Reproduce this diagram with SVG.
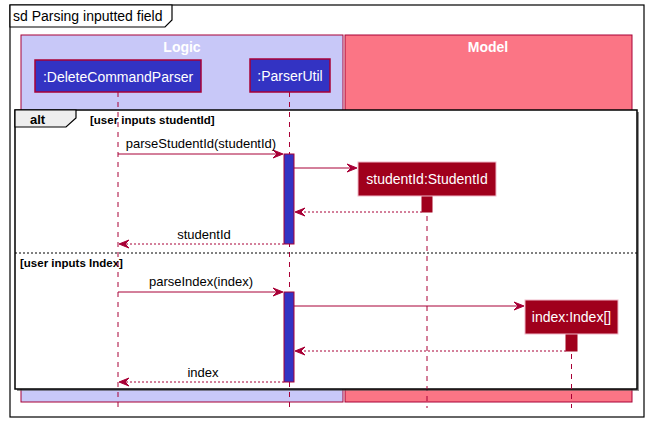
<svg xmlns="http://www.w3.org/2000/svg" width="649" height="423" viewBox="0 0 649 423">
<style>
text{font-family:"Liberation Sans",Arial,sans-serif;}
.msg{font-size:13px;fill:#000;}
.part{font-size:14px;fill:#FFFFFF;text-anchor:middle;}
.box{font-size:14px;font-weight:bold;fill:#FFFFFF;text-anchor:middle;}
.guard{font-size:11.5px;font-weight:bold;fill:#000;}
.life{stroke:#A80036;stroke-width:1;stroke-dasharray:5,5;fill:none;}
.call{stroke:#A80036;stroke-width:1;fill:none;}
.ret{stroke:#A80036;stroke-width:1;stroke-dasharray:2,2;fill:none;}
.ah{fill:#A80036;stroke:#A80036;stroke-width:1;}
.act{fill:#3333C3;stroke:#A80036;stroke-width:1;}
.cact{fill:#A0001C;stroke:#A0001C;stroke-width:1;}
</style>
<rect width="649" height="423" fill="#FFFFFF"/>
<!-- outer frame -->
<g id="frame">
<rect x="10" y="5" width="634" height="412" fill="none" stroke="#000" stroke-width="1.2"/>
<polygon points="10,5 172,5 172,20 165,27 10,27" fill="#FFFFFF" stroke="#000" stroke-width="1.2"/>
<text x="13" y="21" style="font-size:14px;fill:#000">sd Parsing inputted field</text>
</g>
<!-- boxes -->
<g id="box-logic">
<rect x="21" y="35" width="322" height="367" fill="#C8C8F8" stroke="#A80036" stroke-width="1"/>
<text x="182" y="52" class="box">Logic</text>
</g>
<g id="box-model">
<rect x="345" y="35" width="287" height="367" fill="#FB7585" stroke="#A80036" stroke-width="1"/>
<text x="488" y="52" class="box">Model</text>
</g>
<!-- lifelines -->
<g id="lifelines">
<line x1="118" y1="92" x2="118" y2="408" class="life"/>
<line x1="289.5" y1="92" x2="289.5" y2="408" class="life"/>
<line x1="427" y1="196" x2="427" y2="408" class="life"/>
<line x1="571.5" y1="334" x2="571.5" y2="408" class="life"/>
</g>
<!-- alt fragment -->
<g id="alt">
<rect x="17" y="112" width="622" height="279" fill="#444" opacity="0.6"/>
<rect x="15" y="110" width="622" height="279" fill="#FFFFFF" stroke="#000" stroke-width="1.5"/>
<polygon points="15,110 76,110 76,118 66,127 15,127" fill="#EEEEEE" stroke="#000" stroke-width="1.2"/>
<text x="30" y="124" style="font-size:13px;font-weight:bold;fill:#000">alt</text>
<text x="90" y="124" class="guard">[user inputs studentId]</text>
<line x1="15" y1="253" x2="637" y2="253" stroke="#000" stroke-width="1" stroke-dasharray="2,2"/>
<text x="20" y="267" class="guard">[user inputs Index]</text>
</g>
<!-- lifelines over alt -->
<g id="lifelines-over">
<line x1="118" y1="112" x2="118" y2="389" class="life"/>
<line x1="289.5" y1="112" x2="289.5" y2="389" class="life"/>
<line x1="427" y1="196" x2="427" y2="389" class="life"/>
<line x1="571.5" y1="334" x2="571.5" y2="389" class="life"/>
</g>
<!-- participants -->
<g id="p-deletecommandparser">
<rect x="35" y="60" width="166" height="32" fill="#3333C3" stroke="#A80036" stroke-width="1.5"/>
<text x="118" y="82" class="part">:DeleteCommandParser</text>
</g>
<g id="p-parserutil">
<rect x="250" y="59" width="80" height="33" fill="#3333C3" stroke="#A80036" stroke-width="1.5"/>
<text x="290" y="81" class="part">:ParserUtil</text>
</g>
<!-- activations -->
<g id="activations">
<rect x="284" y="154" width="10" height="90" class="act"/>
<rect x="284" y="292" width="10" height="90" class="act"/>
<rect x="422" y="196" width="10" height="16" class="cact"/>
<rect x="566" y="334" width="11" height="17" class="cact"/>
</g>
<g id="p-studentid">
<rect x="358" y="162" width="138" height="34" fill="#A0001C" stroke="#F0B8C8" stroke-width="1"/>
<text x="427" y="184" class="part">studentId:StudentId</text>
</g>
<g id="p-index">
<rect x="525" y="300" width="93" height="34" fill="#A0001C" stroke="#F0B8C8" stroke-width="1"/>
<text x="571.5" y="322" class="part">index:Index[]</text>
</g>
<!-- connectors -->
<g id="connectors">
<line x1="118" y1="154" x2="282" y2="154" class="call"/>
<polygon points="283,154 273,150 277,154 273,158" class="ah"/>
<text x="201" y="148" class="msg" text-anchor="middle">parseStudentId(studentId)</text>

<line x1="294" y1="168" x2="356" y2="168" class="call"/>
<polygon points="357,168 347,164 351,168 347,172" class="ah"/>

<line x1="422" y1="212" x2="296" y2="212" class="ret"/>
<polygon points="295,212 305,208 301,212 305,216" class="ah"/>

<line x1="284" y1="244" x2="120" y2="244" class="ret"/>
<polygon points="119,244 129,240 125,244 129,248" class="ah"/>
<text x="204" y="239" class="msg" text-anchor="middle">studentId</text>

<line x1="118" y1="292" x2="282" y2="292" class="call"/>
<polygon points="283,292 273,288 277,292 273,296" class="ah"/>
<text x="201" y="286" class="msg" text-anchor="middle">parseIndex(index)</text>

<line x1="294" y1="306" x2="523" y2="306" class="call"/>
<polygon points="524,306 514,302 518,306 514,310" class="ah"/>

<line x1="566" y1="351" x2="296" y2="351" class="ret"/>
<polygon points="295,351 305,347 301,351 305,355" class="ah"/>

<line x1="284" y1="382" x2="120" y2="382" class="ret"/>
<polygon points="119,382 129,378 125,382 129,386" class="ah"/>
<text x="203" y="377" class="msg" text-anchor="middle">index</text>
</g>
</svg>
